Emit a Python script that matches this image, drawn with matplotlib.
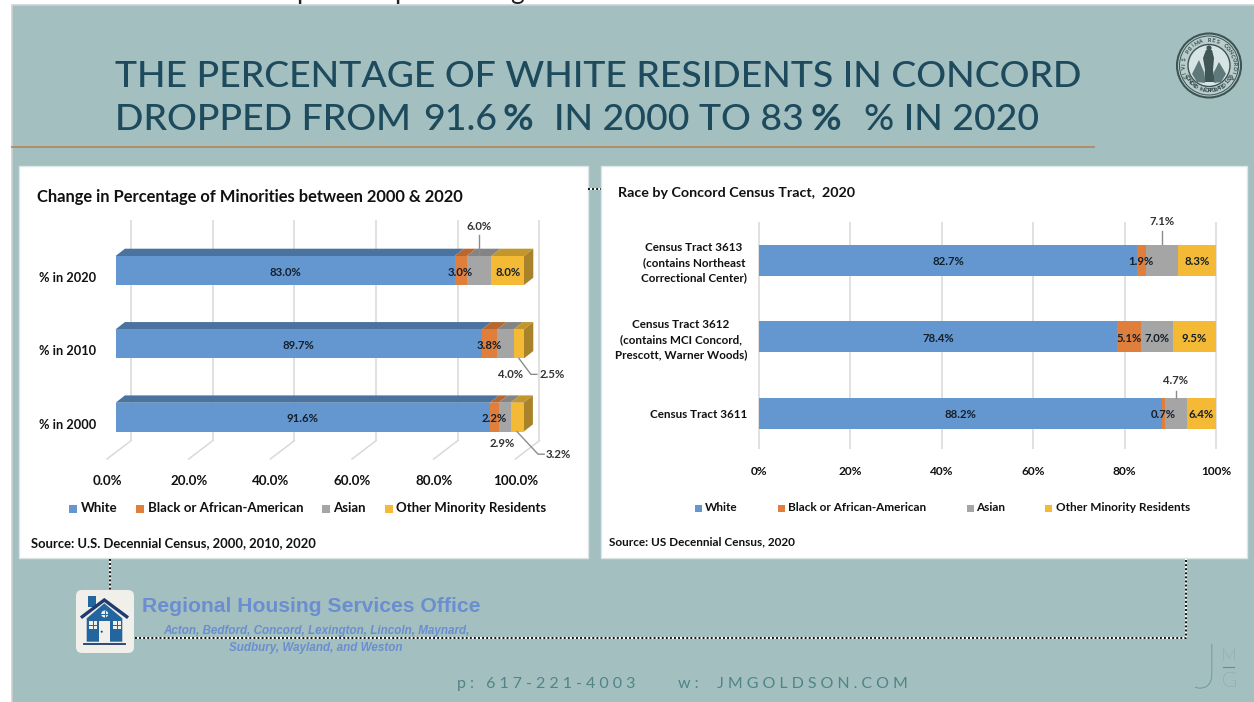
import numpy as np
import matplotlib
matplotlib.use('Agg')
import matplotlib.pyplot as plt
from matplotlib.patches import Rectangle, FancyBboxPatch, Polygon, Circle

plt.rcParams['font.family'] = ['Lato', 'DejaVu Sans']

## data
series = ['White', 'Black or African-American', 'Asian', 'Other Minority Residents']
colors = ['#6497CF', '#E07E3C', '#A5A5A5', '#F5BA35']
top_colors = ['#4B73A0', '#B8682F', '#848484', '#C2962B']
side_colors = ['#4B73A0', '#A8692D', '#7C7C7C', '#A8832A']

years = ['% in 2000', '% in 2010', '% in 2020']
white_year = [91.6, 89.7, 83.0]
black_year = [2.2, 3.8, 3.0]
asian_year = [2.9, 4.0, 6.0]
other_year = [3.2, 2.5, 8.0]
year_ticks = [0, 20, 40, 60, 80, 100]
year_tick_labels = ['0.0%', '20.0%', '40.0%', '60.0%', '80.0%', '100.0%']

tracts = ['Census Tract 3611',
          'Census Tract 3612\n(contains MCI Concord,\nPrescott, Warner Woods)',
          'Census Tract 3613\n(contains Northeast\nCorrectional Center)']
white_tract = [88.2, 78.4, 82.7]
black_tract = [0.7, 5.1, 1.9]
asian_tract = [4.7, 7.0, 7.1]
other_tract = [6.4, 9.5, 8.3]
tract_ticks = [0, 20, 40, 60, 80, 100]
tract_tick_labels = ['0%', '20%', '40%', '60%', '80%', '100%']

W, H = 1254, 702
SLIDE = '#A3BFC0'
INK = '#111111'
TEAL = '#1D4A5C'
LABEL = '#14202c'

fig = plt.figure(figsize=(W / 100, H / 100), dpi=100, facecolor='white')
bg = fig.add_axes([0, 0, 1, 1])
bg.set_xlim(0, W)
bg.set_ylim(H, 0)
bg.axis('off')


def px_axes(x0, x1, y0, y1):
    # axes placed by pixel box, y0 is the top edge
    ax = fig.add_axes([x0 / W, 1 - y1 / H, (x1 - x0) / W, (y1 - y0) / H])
    ax.patch.set_alpha(0)
    for s in ax.spines.values():
        s.set_visible(False)
    ax.tick_params(length=0)
    return ax


def dotted(xs, ys):
    bg.plot(xs, ys, color='white', lw=1.4, zorder=3, solid_capstyle='butt')
    bg.plot(xs, ys, color='#111111', lw=1.4, zorder=3, dashes=(1, 1.1))


## slide background
bg.add_patch(Rectangle((12, 5), W - 10, H, fc=SLIDE, ec='#CCD2D2', lw=1.2, zorder=0))
for cx, ch in [(303, 'p'), (402, 'p'), (517, 'g')]:
    bg.text(cx, -1, ch, fontsize=19, color='#222222', ha='center', va='baseline', zorder=0.5)

## headline
bg.text(115, 87, 'THE PERCENTAGE OF WHITE RESIDENTS IN CONCORD', fontsize=26.9, color=TEAL, fontweight='medium')
for s, x, weight in [('DROPPED FROM', 115, 'medium'), ('91.6', 423, 'medium'), ('%', 503, 'bold'),
                     ('IN 2000 TO 83', 554, 'medium'), ('%', 811, 'bold'), ('% IN 2020', 864, 'medium')]:
    bg.text(x, 130, s, fontsize=26.9, color=TEAL, fontweight=weight)
bg.plot([12, 1094], [147, 147], color='#B18A62', lw=1.3, zorder=1)

## white panels
bg.add_patch(Rectangle((19, 166), 569, 392, fc='white', ec='#DDE6E6', lw=1, zorder=1))
bg.add_patch(Rectangle((601, 166), 646, 392, fc='white', ec='#DDE6E6', lw=1, zorder=1))

## left chart, 3D look stacked bars
lx0, lx1 = 115.6, 524.0
lsc = (lx1 - lx0) / 100
ly_step = 73.35
ly_base = 417.2
# the view starts a little below zero so the shifted first tick stays in it
x_start = -3
ax = px_axes(lx0 + x_start * lsc, lx1, 220, 459)
ylim_left = ((ly_base - 459) / ly_step, (ly_base - 220) / ly_step)
ax.set_xlim(x_start, 100)
ax.set_ylim(*ylim_left)
wall = 15.4 / lsc
wall_bot = (ly_base - 440.7) / ly_step
floor_bot = ylim_left[0]
ax.vlines(np.array(year_ticks) + wall, wall_bot, ylim_left[1], color='#D9D9D9', lw=1.1, clip_on=False, zorder=1)
for t in year_ticks:
    ax.plot([t + wall, t + wall - 24 / lsc], [wall_bot, floor_bot], color='#D9D9D9', lw=1.1, clip_on=False, zorder=1)

bar_h = 29 / ly_step
dx = 9.3 / lsc
dy = 7.3 / ly_step
left = np.zeros(3)
y_pos = np.arange(3)
for vals, c, tc, sc in zip([white_year, black_year, asian_year, other_year], colors, top_colors, side_colors):
    vals = np.array(vals)
    ax.barh(y_pos, vals, left=left, height=bar_h, color=c, zorder=3, clip_on=False)
    for i in y_pos:
        a, b, top = left[i], left[i] + vals[i], i + bar_h / 2
        ax.add_patch(Polygon([(a, top), (b, top), (b + dx, top + dy), (a + dx, top + dy)],
                             fc=tc, ec='none', zorder=2.5, clip_on=False))
    left = left + vals

# yellow end cap of each bar
for i in y_pos:
    end = white_year[i] + black_year[i] + asian_year[i] + other_year[i]
    top, bot = i + bar_h / 2, i - bar_h / 2
    ax.add_patch(Polygon([(end, top), (end + dx, top + dy), (end + dx, bot + dy), (end, bot)],
                         fc=side_colors[3], ec='none', zorder=2.6, clip_on=False))

# value labels inside the bars
lab_dy = -1.5 / ly_step
for i in y_pos:
    ax.text(white_year[i] / 2, i + lab_dy, '%.1f%%' % white_year[i], ha='center', va='center',
            fontsize=8.2, fontweight='bold', color=LABEL, zorder=5, clip_on=False)
    m = white_year[i] + black_year[i] / 2
    ax.text(m, i + lab_dy, '%.1f%%' % black_year[i], ha='center', va='center',
            fontsize=8.2, fontweight='bold', color=LABEL, zorder=5)
ax.text(white_year[2] + black_year[2] + asian_year[2] + other_year[2] / 2, 2 + lab_dy, '%.1f%%' % other_year[2],
        ha='center', va='center', fontsize=8.2, fontweight='bold', color=LABEL, zorder=5)

# labels pulled out of the bars, with leader lines
LEAD = '#8C8C8C'
m = white_year[2] + black_year[2] + asian_year[2] / 2
ax.plot([m, m], [2 + bar_h / 2 + 0.01, 2 + bar_h / 2 + 21 / ly_step], color=LEAD, lw=1, zorder=6, clip_on=False)
ax.text(m, 2 + 44 / ly_step, '%.1f%%' % asian_year[2], ha='center', va='center', fontsize=8.2,
        fontweight='bold', color='#333333', clip_on=False)
ax.text(white_year[1] + black_year[1] + asian_year[1] / 2 + 1.2, 1 - 30.5 / ly_step, '%.1f%%' % asian_year[1],
        ha='center', va='center', fontsize=8.2, fontweight='bold', color='#333333', clip_on=False)
ax.text(white_year[0] + black_year[0] + asian_year[0] / 2 - 0.6, 0 - 26 / ly_step, '%.1f%%' % asian_year[0],
        ha='center', va='center', fontsize=8.2, fontweight='bold', color='#333333', clip_on=False)
m = 100 - other_year[1] / 2
ax.plot([m, m + 12 / lsc, m + 18 / lsc], [1 - bar_h / 2, 1 - 30.5 / ly_step, 1 - 30.5 / ly_step], color=LEAD, lw=1, clip_on=False, zorder=6)
ax.text(m + 33 / lsc, 1 - 30.5 / ly_step, '%.1f%%' % other_year[1], ha='center', va='center', fontsize=8.2,
        fontweight='bold', color='#333333', clip_on=False)
m = 99.9 - other_year[0] / 2
ax.plot([m, m + 21 / lsc, m + 27 / lsc], [0 - bar_h / 2, 0 - 37 / ly_step, 0 - 37 / ly_step], color=LEAD, lw=1, clip_on=False, zorder=6)
ax.text(m + 41 / lsc, 0 - 37 / ly_step, '%.1f%%' % other_year[0], ha='center', va='center', fontsize=8.2,
        fontweight='bold', color='#333333', clip_on=False)

ax.set_yticks(y_pos - 6.5 / ly_step, years, fontsize=9.2, fontweight='bold', color=INK)
ax.tick_params(axis='y', pad=13.7 + x_start * lsc * 0.72)
ax.set_xticks(np.array(year_ticks) - 8.6 / lsc, year_tick_labels, fontsize=9.6, fontweight='bold', color=INK)
ax.tick_params(axis='x', pad=11.5)
# setting ticks can widen the view, put it back
ax.set_xlim(x_start, 100)
ax.set_ylim(*ylim_left)

bg.text(37, 197, 'Change in Percentage of Minorities between 2000 & 2020', fontsize=11.9, fontweight='bold',
        color=INK, va='center', zorder=4)
bg.text(31, 543, 'Source: U.S. Decennial Census, 2000, 2010, 2020', fontsize=9.4, fontweight='bold',
        color=INK, va='center', zorder=4)

leg_sq = [68.5, 136, 322, 384.7]
leg_tx = [81, 148, 333, 396.5]
for s, c, qx, tx in zip(series, colors, leg_sq, leg_tx):
    bg.add_patch(Rectangle((qx, 504.5), 8, 8, fc=c, ec='none', zorder=4))
    bg.text(tx, 508, s, fontsize=9.5, fontweight='bold', color=INK, va='center', zorder=4)

## right chart, flat stacked bars
rx0, rx1 = 759.0, 1216.0
rsc = (rx1 - rx0) / 100
ry_step = 76.5
ry_base = 413.0
ax2 = px_axes(rx0, rx1, 221.7, 449)
ax2.set_xlim(0, 100)
ax2.set_ylim((ry_base - 449) / ry_step, (ry_base - 221.7) / ry_step)
ax2.vlines(tract_ticks, *ax2.get_ylim(), color='#D9D9D9', lw=1.1, zorder=1, clip_on=False)
left = np.zeros(3)
y_pos = np.arange(3)
for vals, c in zip([white_tract, black_tract, asian_tract, other_tract], colors):
    vals = np.array(vals)
    ax2.barh(y_pos, vals, left=left, height=31 / ry_step, color=c, zorder=3)
    left = left + vals

lab_dy = -1.5 / ry_step
for i in y_pos:
    ax2.text(white_tract[i] / 2, i + lab_dy, '%.1f%%' % white_tract[i], ha='center', va='center',
             fontsize=8.2, fontweight='bold', color=LABEL, zorder=5)
    ax2.text(white_tract[i] + black_tract[i] / 2, i + lab_dy, '%.1f%%' % black_tract[i], ha='center', va='center',
             fontsize=8.2, fontweight='bold', color=LABEL, zorder=5)
    ax2.text(white_tract[i] + black_tract[i] + asian_tract[i] + other_tract[i] / 2, i + lab_dy, '%.1f%%' % other_tract[i],
             ha='center', va='center', fontsize=8.2, fontweight='bold', color=LABEL, zorder=5)
ax2.text(white_tract[1] + black_tract[1] + asian_tract[1] / 2, 1 + lab_dy, '%.1f%%' % asian_tract[1],
         ha='center', va='center', fontsize=8.2, fontweight='bold', color=LABEL, zorder=5)
# the two grey segments with outside labels
for i, off, line in [(2, 38.3, 13), (0, 33, 7)]:
    m = white_tract[i] + black_tract[i] + asian_tract[i] / 2
    ax2.plot([m, m], [i + 15.5 / ry_step, i + (15.5 + line) / ry_step], color=LEAD, lw=1, zorder=6, clip_on=False)
    ax2.text(m, i + off / ry_step, '%.1f%%' % asian_tract[i], ha='center', va='center', fontsize=8.2,
             fontweight='bold', color='#333333', clip_on=False)

ax2.set_yticks(y_pos, tracts, fontsize=8.35, fontweight='bold', color=INK, linespacing=1.45, multialignment='center')
ax2.tick_params(axis='y', pad=8.6)
ax2.set_xticks(tract_ticks, tract_tick_labels, fontsize=8.6, fontweight='bold', color=INK)
ax2.tick_params(axis='x', pad=12.5)

bg.text(618, 193, 'Race by Concord Census Tract,  2020', fontsize=10.3, fontweight='bold', color=INK, va='center', zorder=4)
bg.text(609, 541.5, 'Source: US Decennial Census, 2020', fontsize=8.5, fontweight='bold', color=INK, va='center', zorder=4)

leg_sq = [695, 777.6, 966.8, 1044.8]
leg_tx = [705.4, 788, 976.4, 1056]
for s, c, qx, tx in zip(series, colors, leg_sq, leg_tx):
    bg.add_patch(Rectangle((qx, 504.5), 7, 7, fc=c, ec='none', zorder=4))
    bg.text(tx, 507.5, s, fontsize=8.5, fontweight='bold', color=INK, va='center', zorder=4)

## dotted connectors
dotted([110, 110], [559, 590])
dotted([135, 1186, 1186], [638, 638, 559])
dotted([588, 601], [189, 189])

## housing office logo
bg.add_patch(FancyBboxPatch((76, 590), 58, 63, boxstyle='round,pad=0,rounding_size=6', fc='#F0EFE9', ec='none', zorder=4))
NAVY, HOUSE = '#1F3A6E', '#22659F'
bg.add_patch(Rectangle((87.7, 596), 8.3, 11, fc=HOUSE, zorder=5))
bg.add_patch(Polygon([(86.7, 618.3), (104.3, 603.3), (122.3, 618.3), (122.3, 641.7), (86.7, 641.7)], fc=HOUSE, zorder=5))
bg.plot([82.3, 104.3, 126.7], [616.7, 600, 616.7], color=NAVY, lw=2.4, zorder=6, solid_joinstyle='miter')
bg.add_patch(Rectangle((99, 621), 11, 20.7, fc='#F0EFE9', zorder=6))
bg.add_patch(Circle((101.7, 631.7), 1, fc=NAVY, zorder=7))
for wx in [89, 113.3]:
    bg.add_patch(Rectangle((wx, 621), 7.7, 8, fc='#F0EFE9', zorder=6))
    bg.plot([wx + 3.85, wx + 3.85], [621, 629], color=HOUSE, lw=0.7, zorder=7)
    bg.plot([wx, wx + 7.7], [625, 625], color=HOUSE, lw=0.7, zorder=7)
bg.add_patch(Circle((104.7, 614), 3.5, fc='#F0EFE9', zorder=6))
bg.plot([104.7, 104.7], [610.5, 617.5], color=HOUSE, lw=0.7, zorder=7)
bg.plot([101.2, 108.2], [614, 614], color=HOUSE, lw=0.7, zorder=7)
bg.plot([84.3, 125], [644, 644], color=NAVY, lw=1.3, zorder=6)

OFFICE = '#6A8ED0'
bg.text(142, 607, 'Regional Housing Services Office', family=['Liberation Sans'], fontsize=15.25, fontweight='bold',
        color=OFFICE, va='center', zorder=4)
bg.text(316, 631, 'Acton, Bedford, Concord, Lexington, Lincoln, Maynard,', family=['Liberation Sans'], fontsize=8.4,
        fontweight='bold', style='italic', color=OFFICE, va='center', ha='center', zorder=4)
bg.text(316, 648, 'Sudbury, Wayland, and Weston', family=['Liberation Sans'], fontsize=8.4,
        fontweight='bold', style='italic', color=OFFICE, va='center', ha='center', zorder=4)

## footer
FOOT = '#4F8587'
gap = '\u2009\u2009'
bg.text(457, 684, gap.join('p: 617-221-4003'), fontsize=11.5, color=FOOT, va='center', zorder=4)
bg.text(678, 684, gap.join('w:') + '    \u2009' + gap.join('JMGOLDSON.COM'), fontsize=11.5, color=FOOT, va='center', zorder=4)

## JMG mark
MARK = '#5F9092'
bg.text(1218, 688, 'J', fontsize=44, fontweight='light', color=MARK, ha='right', va='baseline', zorder=4)
bg.text(1229, 661, 'M', fontsize=13, fontweight='light', color=MARK, ha='center', va='baseline', zorder=4)
bg.plot([1223, 1234], [667, 667], color=MARK, lw=0.8, zorder=4)
bg.text(1229, 687, 'G', fontsize=15, fontweight='light', color=MARK, ha='center', va='baseline', zorder=4)

## town seal
sx, sy = 1209, 65.5
bg.add_patch(Circle((sx, sy), 32, fc='#B9CDCD', ec='#3C5453', lw=1.5, zorder=4))
bg.add_patch(Circle((sx, sy), 29.5, fc='none', ec='#3C5453', lw=0.7, zorder=4))
bg.add_patch(Circle((sx, sy), 21, fc='#D7E4E4', ec='#3C5453', lw=1, zorder=4))
for word, a0, a1, flip in [('CIVIS PRIMA RES CONCORDIA', 205, -25, False), ('CONCORD INCORPORATED 1635', 205, 335, True)]:
    for ch, ang in zip(word, np.linspace(a0, a1, len(word))):
        rad = np.deg2rad(ang)
        rot = ang - 90 if not flip else ang + 90
        bg.text(sx + 25.2 * np.cos(rad), sy - 25.2 * np.sin(rad), ch, fontsize=3.8, fontweight='bold', color='#2D4243',
                ha='center', va='center', rotation=rot, zorder=5)
# minuteman and the foliage at his feet
bg.add_patch(Polygon([(1206, 50), (1212, 50), (1214, 58), (1213, 70), (1215, 82), (1204, 82), (1205, 70), (1203, 58)],
                     fc='#3F5655', zorder=5))
bg.add_patch(Circle((1209, 48), 2.6, fc='#3F5655', zorder=5))
bg.add_patch(Polygon([(1192, 74), (1199, 60), (1204, 72), (1205, 83), (1197, 82)], fc='#5F7879', zorder=5))
bg.add_patch(Polygon([(1226, 74), (1219, 62), (1214, 72), (1214, 83), (1221, 82)], fc='#5F7879', zorder=5))

fig.savefig('out.png', dpi=100, facecolor='white')
